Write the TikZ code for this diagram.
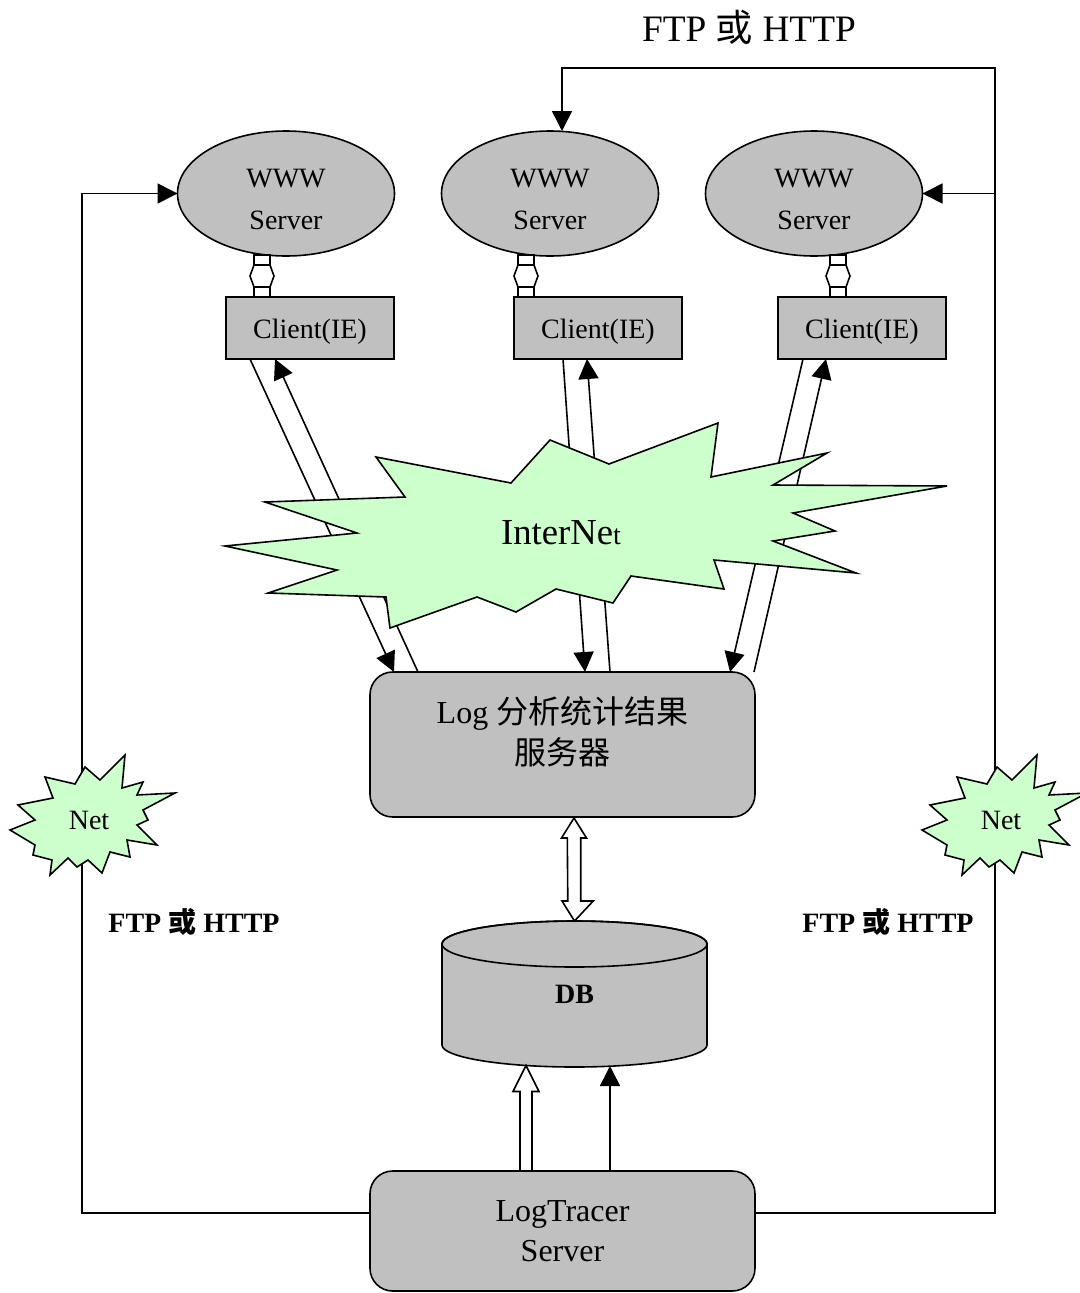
\documentclass[tikz,border=0pt]{standalone}
\usepackage{fontspec}
\setmainfont{Liberation Serif}
\newfontfamily\cjk{Noto Sans CJK SC}
\usetikzlibrary{arrows.meta,calc,shapes.geometric}
\definecolor{gfill}{HTML}{C0C0C0}
\definecolor{burstfill}{HTML}{CCFFCC}
\newcommand\setfs[2]{\fontsize{#1}{#2}\selectfont}
\begin{document}
\begin{tikzpicture}[x=0.75pt,y=-0.75pt,
  every node/.style={inner sep=0pt,outer sep=0pt},
  conn/.style={line width=1.2pt,-{Triangle[length=15pt,width=15pt]}},
  hol/.style={draw,fill=white,line width=1.2pt,line join=miter},
  ell/.style={draw,ellipse,fill=gfill,line width=1.2pt,minimum width=162.75pt,minimum height=93.75pt},
  elltxt/.style={align=center,font=\setfs{21}{31}},
  cbox/.style={draw,rectangle,fill=gfill,line width=1.2pt,minimum width=126pt,minimum height=46.5pt},
  ctxt/.style={font=\setfs{21}{25}},
  rbox/.style={draw,rectangle,rounded corners=17pt,fill=gfill,line width=1.2pt,minimum width=288.75pt},
  burst/.style={draw,fill=burstfill,line width=1.2pt,line join=miter},
  boldlbl/.style={font=\setfs{21}{25}\bfseries}
]
\fill[white] (0,0) rectangle (1080,1293);
\useasboundingbox (0,0) rectangle (1080,1293);

% servers and clients
\node[ell] (e1) at (286,193.5) {};
\node[ell] (e2) at (550,193.5) {};
\node[ell] (e3) at (814,193.5) {};
\node[elltxt] (w1) at ($(e1.center)+(0,6)$) {WWW\\Server};
\node[elltxt] (w2) at ($(e2.center)+(0,6)$) {WWW\\Server};
\node[elltxt] (w3) at ($(e3.center)+(0,6)$) {WWW\\Server};
\node[cbox] (c1) at (310,328) {};
\node[cbox] (c2) at (598,328) {};
\node[cbox] (c3) at (862,328) {};
\node[ctxt] (ct1) at ($(c1.center)+(0,4)$) {Client(IE)};
\node[ctxt] (ct2) at ($(c2.center)+(0,4)$) {Client(IE)};
\node[ctxt] (ct3) at ($(c3.center)+(0,4)$) {Client(IE)};

% log server, DB, logtracer
\node[rbox,minimum height=108.75pt] (log) at (562.5,744.5) {};
\node[font=\setfs{24}{31},align=center] (logtxt) at (562.5,732) {Log {\cjk 分析统计结果}\\{\cjk 服务器}};
\node[rbox,minimum height=90pt,font=\setfs{24}{30},align=center] (lt) at (562.5,1231) {LogTracer\\Server};
\node[minimum width=198.75pt,minimum height=109.5pt] (db) at (574.5,994) {};
\filldraw[fill=gfill,line width=1.2pt] ($(db.north west)+(0,23)$) -- ($(db.south west)+(0,-22)$)
  arc[start angle=180,end angle=0,x radius=132.5,y radius=22]
  -- ($(db.north east)+(0,23)$)
  arc[start angle=0,end angle=-180,x radius=132.5,y radius=23] -- cycle;
\draw[line width=1.2pt] ($(db.north)+(0,23)$) ellipse[x radius=132.5,y radius=23];
\node[font=\setfs{21}{25}\bfseries] (dbl) at (db.center) {DB};

% server <-> client double block arrows
\foreach \c/\dx [count=\i] in {c1/-48,c2/-72,c3/-24}{
  \coordinate (d\i) at ($(\c.north)+(\dx,0)$);
  \draw[hol] ($(d\i)+(-8,-42)$) -- ++(0,10) -- ++(-4,11) -- ++(4,11) -- ++(0,10)
     -- ++(16,0) -- ++(0,-10) -- ++(4,-11) -- ++(-4,-11) -- ++(0,-10) -- cycle;
  \draw[line width=1.2pt] ($(d\i)+(-8,-32)$) -- ++(16,0);
  \draw[line width=1.2pt] ($(d\i)+(-8,-10)$) -- ++(16,0);
}

% client <-> log arrows
\draw[conn] ($(c1.south west)+(24,0)$) -- ($(log.north west)+(24,0)$);
\draw[conn] ($(log.north west)+(48,0)$) -- ($(c1.south west)+(49,0)$);
\draw[conn] ($(c2.south west)+(49,0)$) -- ($(log.north west)+(215,0)$);
\draw[conn] ($(log.north west)+(240,0)$) -- ($(c2.south west)+(73,0)$);
\draw[conn] ($(c3.south west)+(25,0)$) -- ($(log.north west)+(360,0)$);
\draw[conn] ($(log.north west)+(384,0)$) -- ($(c3.south west)+(48,0)$);

% InterNet cloud
\draw[burst] (405,497) -- (376,457) -- (511,483) -- (550,440) -- (609,464) -- (718,423)
  -- (711,477) -- (827,453) -- (773,485) -- (947,486) -- (793,513) -- (835,531)
  -- (773,541) -- (856,573) -- (714,560) -- (724,589) -- (631,576) -- (613,603)
  -- (556,589) -- (516,612) -- (477,597) -- (390,628) -- (386,597) -- (268,593)
  -- (337,570) -- (225,546) -- (357,533) -- (265,502) -- cycle;
\node (inet) at (561,533) {{\setfs{27.5}{30}InterNe}{\setfs{21}{25}t}};

% log <-> DB
\coordinate (lda) at ($(log.south)+(11.5,1)$);
\coordinate (ldb) at ($(db.north)+(0,0)$);
\draw[hol] (lda) -- ++(12.5,20) -- ++(-5.8,0) -- ($(ldb)+(6.2,-20)$) -- ++(12.5,0) -- (ldb)
  -- ++(-12.5,-20) -- ++(5.8,0) -- ($(lda)+(-6.7,20)$) -- ++(-5.8,0) -- cycle;

% LogTracer -> DB
\coordinate (hb) at ($(lt.north)+(-36.5,0)$);
\coordinate (ht) at ($(db.south)+(-48.5,-1.5)$);
\draw[hol] ($(hb)+(-6,0)$) -- ($(ht)+(-6,26)$) -- ++(-7,0) -- (ht) -- ++(13,26) -- ++(-7,0) -- ($(hb)+(6,0)$) -- cycle;
\draw[conn] ($(lt.north)+(47.5,0)$) -- ($(db.south)+(35.5,-1)$);

% outer connectors
\coordinate (lcorner) at (82,193.5);
\coordinate (rtop) at (995,68);
\coordinate (mtop) at (562,68);
\coordinate (rbr) at (995,193.5);
\draw[conn] ($(lt.west)+(0,-18)$) -| (lcorner) -- (e1.west);
\draw[conn] ($(lt.east)+(0,-18)$) -| (rtop) -- (mtop) -- ($(e2.north)+(12,0)$);
\draw[conn] (rbr) -- (e3.east);

% Net bursts
\foreach \sx/\nm in {0/netl,912/netr}{
\begin{scope}[shift={(\sx,0)}]
\draw[burst] (45,777) -- (75,784) -- (85,767) -- (100,780) -- (125,755) -- (122,788)
  -- (143,782) -- (137,795) -- (175,793) -- (143,810) -- (148,820) -- (137,825)
  -- (157,845) -- (127,840) -- (130,857) -- (110,852) -- (102,873) -- (88,860)
  -- (77,867) -- (68,858) -- (50,875) -- (52,860) -- (33,855) -- (35,845)
  -- (10,830) -- (35,820) -- (18,805) -- (53,798) -- cycle;
\node[font=\setfs{21}{25}] (\nm) at (89,820) {Net};
\end{scope}
}

% labels
\node[font=\setfs{28}{32}] (ftptop) at (749,27) {FTP {\cjk 或} HTTP};
\node[boldlbl] (ftpl) at (194,922) {FTP {\cjk\bfseries 或} HTTP};
\node[boldlbl] (ftpr) at (888,922) {FTP {\cjk\bfseries 或} HTTP};
\end{tikzpicture}
\end{document}
